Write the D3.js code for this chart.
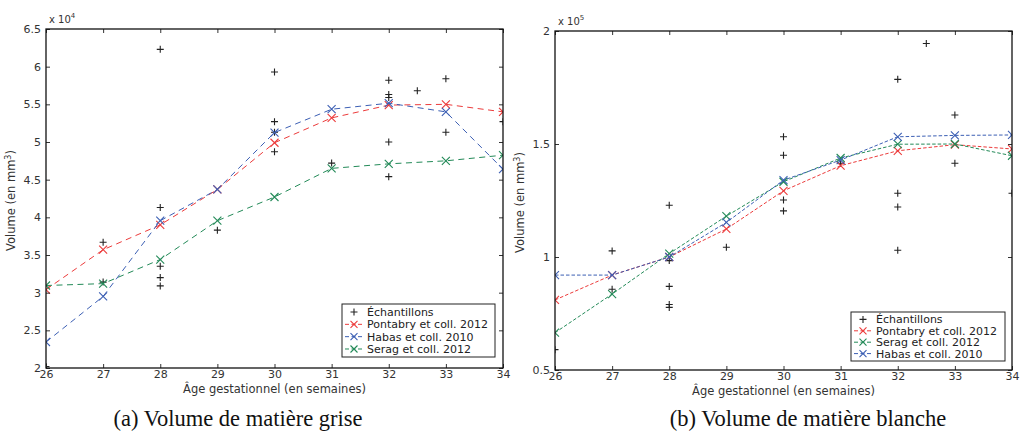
<!DOCTYPE html>
<html><head><meta charset="utf-8">
<script src="https://cdnjs.cloudflare.com/ajax/libs/d3/7.8.5/d3.min.js"></script>
<style>body{margin:0;background:#fff}svg{display:block}</style>
</head><body>
<svg id="chart" width="1020" height="439"></svg>
<script>
// ---- data ----
const weeks = [26, 27, 28, 29, 30, 31, 32, 33, 34];
// Grey matter (x 10^4 mm3)
const pontabryGM = [3.04, 3.57, 3.90, 4.37, 4.99, 5.32, 5.49, 5.50, 5.40];
const habasGM    = [2.345, 2.95, 3.955, 4.37, 5.125, 5.435, 5.515, 5.40, 4.64];
const seragGM    = [3.095, 3.12, 3.44, 3.955, 4.27, 4.65, 4.71, 4.75, 4.825];
const sampleWeeksGM = [26, 27, 27, 28, 28, 28, 28, 28, 29, 30, 30, 30, 30, 31, 32, 32, 32, 32, 32, 32.5, 33, 33, 34];
const sampleValsGM  = [2.02, 3.67, 3.14, 6.23, 4.13, 3.35, 3.20, 3.09, 3.83, 5.93, 5.27, 5.13, 4.87, 4.72, 5.82, 5.63, 5.59, 5.00, 4.54, 5.68, 5.84, 5.13, 5.27];
const yTicksGM = [2, 2.5, 3, 3.5, 4, 4.5, 5, 5.5, 6, 6.5];
// White matter (x 10^5 mm3)
const pontabryWM = [0.81, 0.92, 1.0, 1.124, 1.293, 1.404, 1.47, 1.497, 1.478];
const seragWM    = [0.665, 0.836, 1.015, 1.181, 1.333, 1.438, 1.499, 1.50, 1.448];
const habasWM    = [0.92, 0.92, 1.0, 1.153, 1.34, 1.429, 1.532, 1.538, 1.54];
const sampleWeeksWM = [26, 27, 27, 28, 28, 28, 28, 28, 29, 30, 30, 30, 30, 31, 32, 32, 32, 32, 32.5, 33, 33, 34];
const sampleValsWM  = [0.59, 1.027, 0.857, 1.229, 0.984, 0.87, 0.79, 0.777, 1.043, 1.532, 1.45, 1.252, 1.204, 1.415, 1.786, 1.282, 1.221, 1.03, 1.945, 1.628, 1.415, 1.282];
const yTicksWM = [0.5, 1, 1.5, 2];

const colors = {pontabry: "#ec3b3b", habas: "#3c5fb4", serag: "#238a58"};

const svg = d3.select("#chart");

function drawPanel(opt) {
  const {x0, x1, y0, y1, yDomain, yTicks, series, sw, sv, dash, legendBox, legendOrder, expLabel, exp, ylabelX, caption, captionX, yTickFmt} = opt;
  const x = d3.scaleLinear().domain([26, 34]).range([x0, x1]);
  const y = d3.scaleLinear().domain(yDomain).range([y1, y0]);
  const g = svg.append("g");
  const clipId = "clip" + Math.round(x0);
  g.append("clipPath").attr("id", clipId).append("rect")
    .attr("x", x0).attr("y", y0).attr("width", x1 - x0).attr("height", y1 - y0);
  const plot = g.append("g").attr("clip-path", `url(#${clipId})`);

  // samples
  sw.forEach((w, i) => {
    const cx = x(w), cy = y(sv[i]);
    plot.append("path").attr("d", `M${cx-3.5},${cy}H${cx+3.5}M${cx},${cy-3.5}V${cy+3.5}`)
      .attr("stroke", "#222").attr("stroke-width", 1.1).attr("fill", "none");
  });
  // series
  const line = d3.line().x((d, i) => x(weeks[i])).y(d => y(d));
  series.forEach(s => {
    plot.append("path").datum(s.values).attr("d", line)
      .attr("fill", "none").attr("stroke", s.color).attr("stroke-width", 1)
      .attr("stroke-dasharray", dash);
    s.values.forEach((v, i) => {
      const cx = x(weeks[i]), cy = y(v), r = 4;
      plot.append("path").attr("d", `M${cx-r},${cy-r}L${cx+r},${cy+r}M${cx-r},${cy+r}L${cx+r},${cy-r}`)
        .attr("stroke", s.color).attr("stroke-width", 1.1).attr("fill", "none");
    });
  });

  // axes
  const fmt = yTickFmt;
  const axB = g.append("g").attr("transform", `translate(0,${y1})`)
    .call(d3.axisBottom(x).tickValues(weeks).tickSizeInner(-4).tickSizeOuter(0).tickPadding(2));
  const axT = g.append("g").attr("transform", `translate(0,${y0})`)
    .call(d3.axisTop(x).tickValues(weeks).tickSizeInner(-4).tickSizeOuter(0).tickFormat(""));
  const axL = g.append("g").attr("transform", `translate(${x0},0)`)
    .call(d3.axisLeft(y).tickValues(yTicks).tickSizeInner(-4).tickSizeOuter(0).tickPadding(5).tickFormat(fmt));
  const axR = g.append("g").attr("transform", `translate(${x1},0)`)
    .call(d3.axisRight(y).tickValues(yTicks).tickSizeInner(-4).tickSizeOuter(0).tickFormat(""));
  [axB, axT, axL, axR].forEach(a => {
    a.select(".domain").remove();
    a.selectAll("line").attr("stroke", "#333").attr("stroke-width", 1);
    a.selectAll("text").attr("font-family", "DejaVu Sans").attr("font-size", 11).attr("fill", "#333");
  });
  g.append("rect").attr("x", x0).attr("y", y0).attr("width", x1 - x0).attr("height", y1 - y0)
    .attr("fill", "none").attr("stroke", "#111").attr("stroke-width", 1.3);

  // exponent label
  const t = g.append("text").attr("x", x0 + 3).attr("y", y0 - 6)
    .attr("font-family", "DejaVu Sans").attr("font-size", 10).attr("fill", "#333");
  t.append("tspan").text(expLabel);
  t.append("tspan").attr("dy", -5).attr("font-size", 7).text(exp);

  // axis labels
  g.append("text").attr("transform", `translate(${ylabelX},${(y0 + y1) / 2 + 2}) rotate(-90)`)
    .attr("text-anchor", "middle").attr("font-family", "DejaVu Sans").attr("font-size", 11.5).attr("fill", "#333")
    .html('Volume (en mm<tspan dy="-4" font-size="8">3</tspan><tspan dy="4">)</tspan>');
  g.append("text").attr("x", (x0 + x1) / 2).attr("y", y1 + 25).attr("text-anchor", "middle")
    .attr("font-family", "DejaVu Sans").attr("font-size", 11.5).attr("fill", "#333")
    .text("Âge gestationnel (en semaines)");

  // legend
  const lb = legendBox;
  g.append("rect").attr("x", lb.x).attr("y", lb.y).attr("width", lb.w).attr("height", lb.h)
    .attr("fill", "#fff").attr("stroke", "#222").attr("stroke-width", 1);
  const rowH = lb.h / 4.3;
  legendOrder.forEach((item, i) => {
    const cy = lb.y + rowH * (i + 0.65);
    const mx = lb.x + 12;
    if (item.sample) {
      g.append("path").attr("d", `M${mx-3.5},${cy}H${mx+3.5}M${mx},${cy-3.5}V${cy+3.5}`)
        .attr("stroke", "#222").attr("stroke-width", 1.1);
    } else {
      g.append("line").attr("x1", lb.x + 3).attr("x2", lb.x + 22).attr("y1", cy).attr("y2", cy)
        .attr("stroke", item.color).attr("stroke-width", 1).attr("stroke-dasharray", "4,2.5");
      g.append("path").attr("d", `M${mx-3.5},${cy-3.5}L${mx+3.5},${cy+3.5}M${mx-3.5},${cy+3.5}L${mx+3.5},${cy-3.5}`)
        .attr("stroke", item.color).attr("stroke-width", 1.1);
    }
    g.append("text").attr("x", lb.x + 25).attr("y", cy + 4).attr("font-family", "DejaVu Sans")
      .attr("font-size", 11).attr("fill", "#222").text(item.label);
  });

  // caption
  svg.append("text").attr("x", captionX).attr("y", 426).attr("text-anchor", "middle")
    .attr("font-family", "Liberation Serif").attr("font-size", 22.5).attr("fill", "#111").text(caption);
}

const fmtNum = d => (Math.round(d * 10) / 10).toString();

drawPanel({
  x0: 46, x1: 503, y0: 29, y1: 368, yDomain: [2, 6.5], yTicks: yTicksGM, yTickFmt: fmtNum,
  series: [
    {values: pontabryGM, color: colors.pontabry},
    {values: habasGM, color: colors.habas},
    {values: seragGM, color: colors.serag}
  ],
  sw: sampleWeeksGM, sv: sampleValsGM, dash: "6,4.5",
  legendBox: {x: 342, y: 304, w: 153, h: 53},
  legendOrder: [
    {sample: true, label: "Échantillons"},
    {color: colors.pontabry, label: "Pontabry et coll. 2012"},
    {color: colors.habas, label: "Habas et coll. 2010"},
    {color: colors.serag, label: "Serag et coll. 2012"}
  ],
  expLabel: "x 10", exp: "4", ylabelX: 15,
  caption: "(a) Volume de matière grise", captionX: 238
});

drawPanel({
  x0: 555, x1: 1012, y0: 31, y1: 370, yDomain: [0.5, 2], yTicks: yTicksWM, yTickFmt: fmtNum,
  series: [
    {values: pontabryWM, color: colors.pontabry},
    {values: seragWM, color: colors.serag},
    {values: habasWM, color: colors.habas}
  ],
  sw: sampleWeeksWM, sv: sampleValsWM, dash: "3.5,2",
  legendBox: {x: 851, y: 312, w: 154, h: 49},
  legendOrder: [
    {sample: true, label: "Échantillons"},
    {color: colors.pontabry, label: "Pontabry et coll. 2012"},
    {color: colors.serag, label: "Serag et coll. 2012"},
    {color: colors.habas, label: "Habas et coll. 2010"}
  ],
  expLabel: "x 10", exp: "5", ylabelX: 524,
  caption: "(b) Volume de matière blanche", captionX: 808
});
</script>
</body></html>
